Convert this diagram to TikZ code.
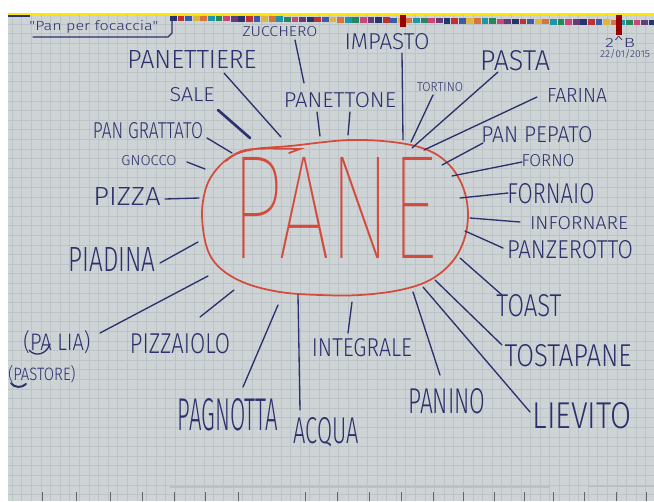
\documentclass[tikz,border=0pt]{standalone}
\usepackage{fontspec}
\usepackage{graphicx}
\newfontfamily\handfont{Fira Sans Light}
\newfontfamily\thinfont{Fira Sans Thin}

\newlength\px
\setlength\px{0.75pt}
\newcommand\hw[3]{\resizebox{#1\px}{#2\px}{#3}}

\definecolor{paper}{RGB}{206,212,214}
\definecolor{gridc}{RGB}{188,196,200}
\definecolor{ink}{RGB}{44,48,108}
\definecolor{redpen}{RGB}{212,74,60}
\definecolor{sq0}{RGB}{40,52,112}
\definecolor{sq1}{RGB}{200,70,120}
\definecolor{sq2}{RGB}{30,150,165}
\definecolor{sq3}{RGB}{222,182,60}
\definecolor{sq4}{RGB}{190,50,50}
\definecolor{sq5}{RGB}{100,60,120}
\definecolor{sq6}{RGB}{40,135,90}
\definecolor{sq7}{RGB}{215,115,60}
\definecolor{sq8}{RGB}{60,90,170}

\tikzset{
	word/.style={font=\handfont, text=ink, inner sep=0pt},
	spoke/.style={draw=ink, line width=1pt, line cap=round},
	pen/.style={draw=ink, line width=1pt, line cap=round, line join=round},
}

\begin{document}
\begin{tikzpicture}[x=0.75pt, y=-0.75pt]
	\useasboundingbox (0,0) rectangle (654,501);
	
	% foglio a quadretti
	\fill[paper] (8,15) rectangle (654,501);
	\foreach \gx in {12,21.6,...,654} \draw[gridc, line width=0.3pt] (\gx,15) -- (\gx,501);
	\foreach \gy in {24,33.6,...,501} \draw[gridc, line width=0.3pt] (8,\gy) -- (654,\gy);
	
	% bordo colorato
	\draw[yellow!90!orange, line width=1.2pt] (8,14) -- (654,14);
	\fill[sq0] (8,15) rectangle (30,17);
	\foreach \i in {0,...,63} {
		\pgfmathtruncatemacro\sqn{mod(4*\i,9)}
		\fill[sq\sqn] ({170+7.6*\i},{15.5+0.07*\i}) rectangle ++(6.8,5.5);
	}
	\fill[red!60!black] (400,15) rectangle (406,27);
	\fill[red!60!black] (616,15) rectangle (622,35);
	
	% righello in basso
	\draw[black!25, line width=0.8pt] (170,487) -- (550,487);
	\draw[black!25, line width=0.8pt] (588,486) -- (654,486);
	\foreach \tx in {42,76,110,142,174,205,238,305,337,369,401,433,463,494,524,553,584,616,646}
		\draw[black!60, line width=0.6pt] (\tx,492) -- (\tx,501);
	
	% titolo e data
	\node[word] (titolo) at (94,27) {\hw{129}{10}{"Pan per focaccia"}};
	\draw[pen] (33,37) -- (168,37) -- (172,33) -- (172,20);
	\node[word] (classe) at (620,42) {\hw{30}{11}{2\textasciicircum B}};
	\node[word] (data) at (625,54) {\hw{50}{8}{22/01/2015}};
	
	% PANE
	\coordinate (pane) at (335,217);
	\draw[redpen, line width=1.3pt] plot[smooth cycle, tension=0.6] coordinates {
		(202,215) (206,188) (216,170) (232,156) (255,149) (290,146) (350,140)
		(400,143) (432,152) (452,168) (464,190) (468,215) (464,240) (452,262)
		(430,280) (400,290) (360,295) (320,295) (280,292) (245,283) (220,268) (207,248)};
	\draw[redpen, line width=1.3pt, line cap=round] (226,161) .. controls (242,148) .. (300,149) -- (289,153);
	\node[font=\thinfont, text=redpen, inner sep=0pt] (panetxt) at (334.5,207.5) {\hw{205}{101}{PANE}};
	
	% parole
	\node[word] (zucchero) at (280,32) {\hw{75}{10}{ZUCCHERO}};
	\node[word] (impasto) at (387,42) {\hw{85}{16}{IMPASTO}};
	\node[word] (panettiere) at (192,59) {\hw{129}{18}{PANETTIERE}};
	\node[word] (pasta) at (515,61) {\hw{70}{20}{PASTA}};
	\node[word] (tortino) at (440,87) {\hw{46}{9}{TORTINO}};
	\node[word] (farina) at (577,95) {\hw{60}{14}{FARINA}};
	\node[word] (sale) at (192,95) {\hw{45}{14}{SALE}};
	\node[word] (panettone) at (340,100) {\hw{112}{15}{PANETTONE}};
	\node[word] (pangrattato) at (148,131) {\hw{110}{16}{PAN GRATTATO}};
	\node[word] (panpepato) at (537,135) {\hw{111}{16}{PAN PEPATO}};
	\node[word] (gnocco) at (149,161) {\hw{55}{10}{GNOCCO}};
	\node[word] (forno) at (548,161) {\hw{53}{12}{FORNO}};
	\node[word] (pizza) at (127,196) {\hw{67}{18}{PIZZA}};
	\node[word] (fornaio) at (551,194) {\hw{87}{20}{FORNAIO}};
	\node[word] (infornare) at (579,223) {\hw{98}{13}{INFORNARE}};
	\node[word] (panzerotto) at (570,250) {\hw{126}{18}{PANZEROTTO}};
	\node[word] (piadina) at (112,259) {\hw{87}{24}{PIADINA}};
	\node[word] (toast) at (529,306) {\hw{65}{22}{TOAST}};
	\node[word] (palia) at (57,342) {\hw{67}{20}{(PA LIA)}};
	\node[word] (pastore) at (42,374) {\hw{67}{15}{(PASTORE)}};
	\node[word] (pizzaiolo) at (180,344) {\hw{100}{20}{PIZZAIOLO}};
	\node[word] (integrale) at (362,348) {\hw{100}{18}{INTEGRALE}};
	\node[word] (tostapane) at (568,356) {\hw{127}{22}{TOSTAPANE}};
	\node[word] (panino) at (447,401) {\hw{77}{25}{PANINO}};
	\node[word] (lievito) at (582,416) {\hw{99}{26}{LIEVITO}};
	\node[word] (pagnotta) at (228,415) {\hw{100}{32}{PAGNOTTA}};
	\node[word] (acqua) at (326,432) {\hw{65}{26}{ACQUA}};
	
	\draw[pen] (29,350) .. controls (35,357) and (46,355) .. (50,344);
	\draw[pen, line width=1.5pt] (11,383) .. controls (14,388) and (22,388) .. (26,384);
	
	% raggi
	\foreach \n/\ax/\ay/\bx/\by in {zucchero/295/40/304/83, panettiere/224/73/281/137,
		panettoneA/317/112/320/136, panettoneB/350/112/348/135, impasto/402/53/403/140,
		tortino/433/95/411/142, pasta/498/72/412/148, farina/537/97/424/150,
		panpepato/483/143/442/165, forno/522/162/452/176, fornaio/508/193/460/198,
		infornare/520/222/470/218, panzerotto/503/248/465/231, toast/502/295/460/258,
		tostapane/502/345/435/280, lievito/530/412/423/287, panino/440/375/413/292,
		integrale/348/333/352/302, acqua/300/410/298/295, pagnotta/243/387/278/305,
		pizzaiolo/200/317/234/290, palia/100/333/208/276, piadina/160/263/198/242,
		pizza/165/199/199/198, gnocco/187/162/205/169, pangrattato/207/138/232/153} {
		\coordinate (\n-a) at (\ax,\ay);
		\coordinate (\n-b) at (\bx,\by);
		\draw[spoke] (\n-a) -- (\n-b);
	}
	\coordinate (sale-a) at (218,110);
	\coordinate (sale-b) at (250,138);
	\draw[spoke, line width=2pt] (sale-a) -- (sale-b);
\end{tikzpicture}
\end{document}
